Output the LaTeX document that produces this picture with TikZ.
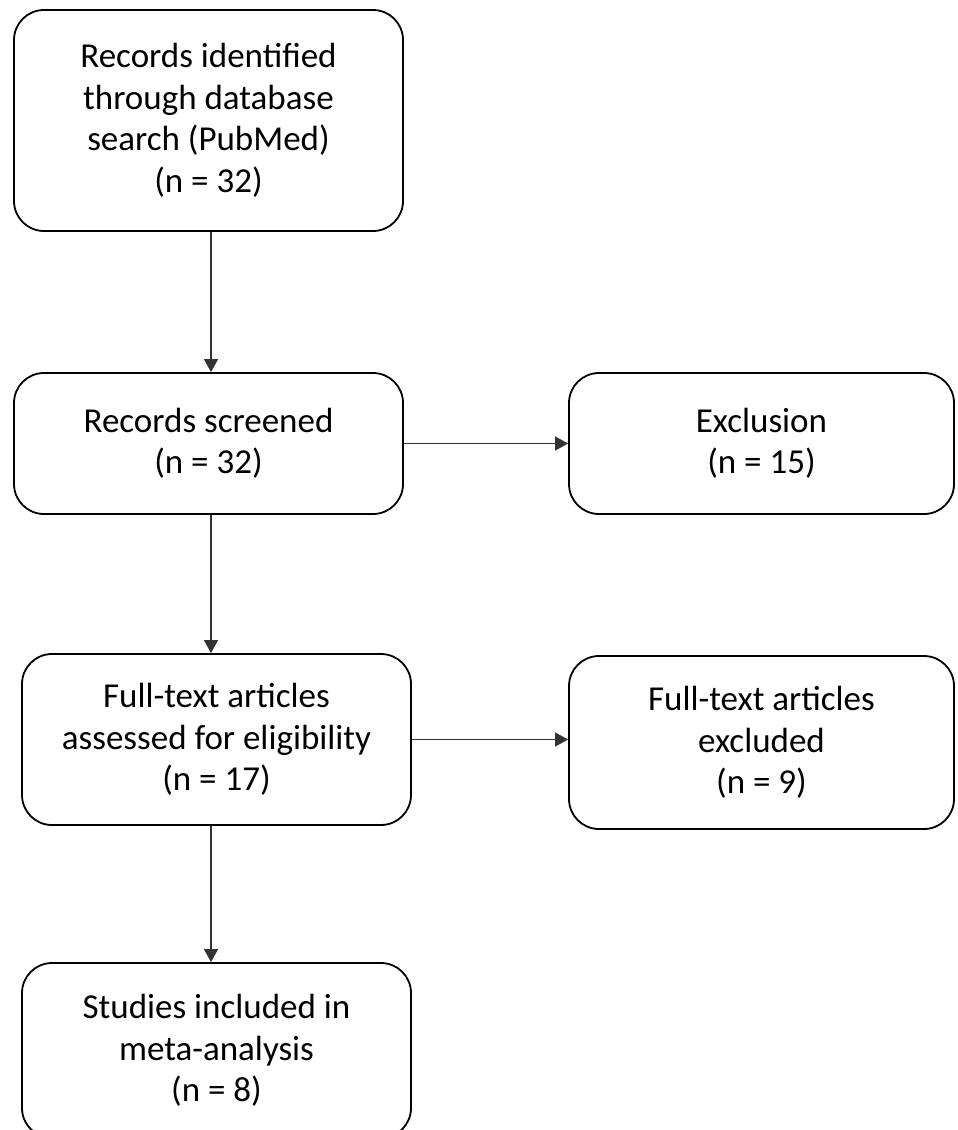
\documentclass[tikz,border=0pt]{standalone}
\usepackage{fontspec}
\setmainfont{Carlito}
\usetikzlibrary{arrows.meta}

\begin{document}
\begin{tikzpicture}[x=1pt, y=-1pt, >={Triangle[length=13pt, width=14pt]},
  box/.style={draw, line width=1.8pt, rounded corners=30pt, align=center,
    inner sep=0pt, font=\fontsize{35}{41.5}\selectfont},
  link/.style={->, line width=1.2pt, draw=black!80, fill=black!80}]
  \useasboundingbox (0, 0) rectangle (958, 1130);
  % left column
  \node [box, minimum width=389pt, minimum height=221pt] (ident) at (208.5, 120.5)
    {Records identified\\through database\\search (PubMed)\\(n = 32)};
  \node [box, minimum width=389pt, minimum height=141pt] (screen) at (208.5, 443.5)
    {Records screened\\(n = 32)};
  \node [box, minimum width=389pt, minimum height=171pt] (elig) at (216.5, 739.5)
    {Full-text articles\\assessed for eligibility\\(n = 17)};
  \node [box, minimum width=389pt, minimum height=175pt] (incl) at (216.5, 1050.5)
    {Studies included in\\meta-analysis\\(n = 8)};
  % right column
  \node [box, minimum width=385pt, minimum height=141pt] (excl) at (761.5, 443.5)
    {Exclusion\\(n = 15)};
  \node [box, minimum width=385pt, minimum height=173pt] (ftexcl) at (761.5, 742.5)
    {Full-text articles\\excluded\\(n = 9)};
  % connectors
  \coordinate (col) at (211, 0);
  \draw [link] (ident.south -| col) -- (screen.north -| col);
  \draw [link] (screen.south -| col) -- (elig.north -| col);
  \draw [link] (elig.south -| col) -- (incl.north -| col);
  \draw [link] (screen) -- (excl);
  \draw [link] (elig.east) -- (elig.east -| ftexcl.west);
\end{tikzpicture}
\end{document}
